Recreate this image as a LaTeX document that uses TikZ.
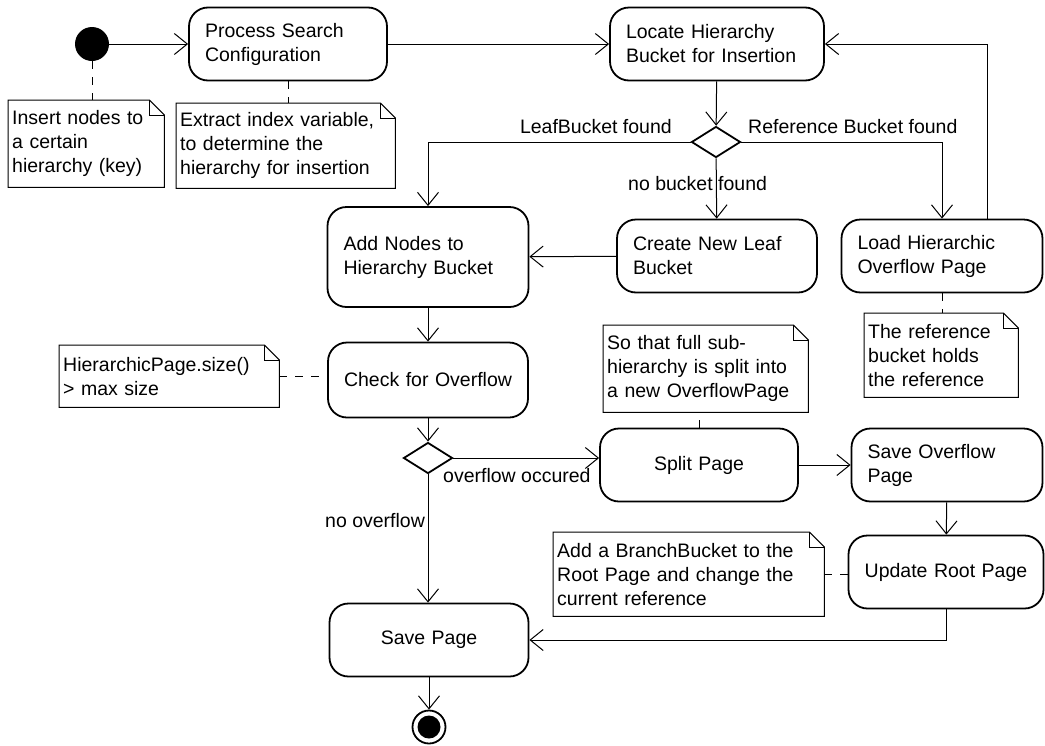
\documentclass[tikz,border=0pt]{standalone}
\usepackage{fontspec}
\setmainfont{Liberation Sans}
\usetikzlibrary{shapes.geometric,arrows.meta}

\begin{document}
\begin{tikzpicture}[x=1pt,y=-1pt,
  font=\fontsize{19.5pt}{24pt}\selectfont,
  action/.style={draw,line width=1.8pt,rounded corners=19pt,inner xsep=16pt,inner ysep=0pt,minimum height=73pt,align=left},
  decision/.style={draw,diamond,line width=1.8pt,minimum width=49pt,minimum height=31pt,inner sep=0pt},
  notebox/.style={inner xsep=4pt,inner ysep=0pt,align=left,anchor=north west},
  flow/.style={line width=1pt,-{Straight Barb[length=13pt,width=21pt]}},
  noteline/.style={line width=1pt,dash pattern=on 8pt off 8pt},
  guard/.style={inner sep=0pt}]
  \useasboundingbox (0,0) rectangle (1045,745);

% start and end
\node[circle,fill=black,minimum size=34pt,inner sep=0pt] (start) at (92,44) {};
\node[circle,draw,line width=1.8pt,minimum size=33pt,inner sep=0pt] (stop) at (429,727) {};
\node[circle,fill=black,minimum size=23pt,inner sep=0pt] (stopdot) at (stop) {};

% actions
\node[action,text width=166pt] (search) at (288,44) {Process Search\\Configuration};
\node[action,text width=182pt] (locate) at (717,44) {Locate Hierarchy\\Bucket for Insertion};
\node[action,text width=169pt,minimum height=100pt] (addnodes) at (428,257) {Add Nodes to\\Hierarchy Bucket};
\node[action,text width=168pt] (newleaf) at (717,256) {Create New Leaf\\Bucket};
\node[action,text width=169pt] (loadpage) at (942,256) {Load Hierarchic\\Overflow Page};
\node[action,text width=168pt,align=center,minimum height=75pt] (check) at (428,380) {Check for Overflow};
\node[action,text width=166pt,align=center] (split) at (699,465) {Split Page};
\node[action,text width=159pt] (saveover) at (947,465) {Save Overflow\\Page};
\node[action,inner xsep=6pt,text width=183pt,align=center] (updroot) at (946,572) {Update Root Page};
\node[action,text width=167pt,align=center] (savepage) at (429,640) {Save Page};

% decisions
\node[decision] (found) at (716,142) {};
\node[decision] (over) at (428,458) {};

% notes
\node[notebox,text width=148pt,minimum height=87pt] (nkey) at (8,100) {Insert nodes to\\a certain\\hierarchy (key)};
\node[notebox,text width=211pt,minimum height=85pt] (nindex) at (176,103) {Extract index variable,\\to determine the\\hierarchy for insertion};
\node[notebox,text width=146pt,minimum height=84pt] (nref) at (864,313) {The reference\\bucket holds\\the reference};
\node[notebox,text width=197pt,minimum height=87pt] (nsplit) at (603,325) {So that full sub-\\hierarchy is split into\\a new OverflowPage};
\node[notebox,text width=212pt,minimum height=62pt] (nsize) at (59,345) {HierarchicPage.size()\\> max size};
\node[notebox,text width=263pt,minimum height=84pt] (nbranch) at (553,532) {Add a BranchBucket to the\\Root Page and change the\\current reference};
\foreach \n in {nkey,nindex,nref,nsplit,nsize,nbranch} {
  \draw[line width=1pt] ([xshift=-15pt]\n.north east) -- (\n.north west) -- (\n.south west)
    -- (\n.south east) -- ([yshift=-15pt]\n.north east) -- cycle;
  \draw[line width=1pt] ([xshift=-15pt]\n.north east) |- ([yshift=-15pt]\n.north east);
}

% guards
\node[guard,anchor=base east] (gleaf) at (672,133) {LeafBucket found};
\node[guard,anchor=base west] (gref) at (748,133) {Reference Bucket found};
\node[guard,anchor=base west] (gnone) at (628,190) {no bucket found};
\node[guard,anchor=base west] (gover) at (443,482) {overflow occured};
\node[guard,anchor=base west] (gnoover) at (325,527) {no overflow};

% flows
\draw[flow] (start) -- (search);
\draw[flow] (search) -- (locate);
\draw[flow] ([xshift=45pt]loadpage.north) |- (locate.east);
\draw[flow] (locate) -- (found);
\draw[flow] (found.west) -| (addnodes.north);
\draw[flow] (found.east) -| (loadpage.north);
\draw[flow] (found) -- (newleaf);
\draw[flow] (newleaf) -- (addnodes);
\draw[flow] (addnodes) -- (check);
\draw[flow] (check) -- (over);
\draw[flow] (over.east) -- (over.east -| split.west);
\draw[flow] (over.south) -- (over.south |- savepage.north);
\draw[flow] (split) -- (saveover);
\draw[flow] (saveover) -- (updroot);
\draw[flow] (updroot.south) |- (savepage.east);
\draw[flow] (savepage) -- (stop);

% note anchors
\draw[noteline] (start.south) -- (start.south |- nkey.north);
\draw[noteline] (search.south) -- (search.south |- nindex.north);
\draw[noteline] (loadpage.south) -- (loadpage.south |- nref.north);
\draw[noteline] (split.north) -- (split.north |- nsplit.south);
\draw[noteline] (nsize.east) -- (nsize.east -| check.west);
\draw[noteline] (nbranch.east) -- (nbranch.east -| updroot.west);
\end{tikzpicture}
\end{document}
